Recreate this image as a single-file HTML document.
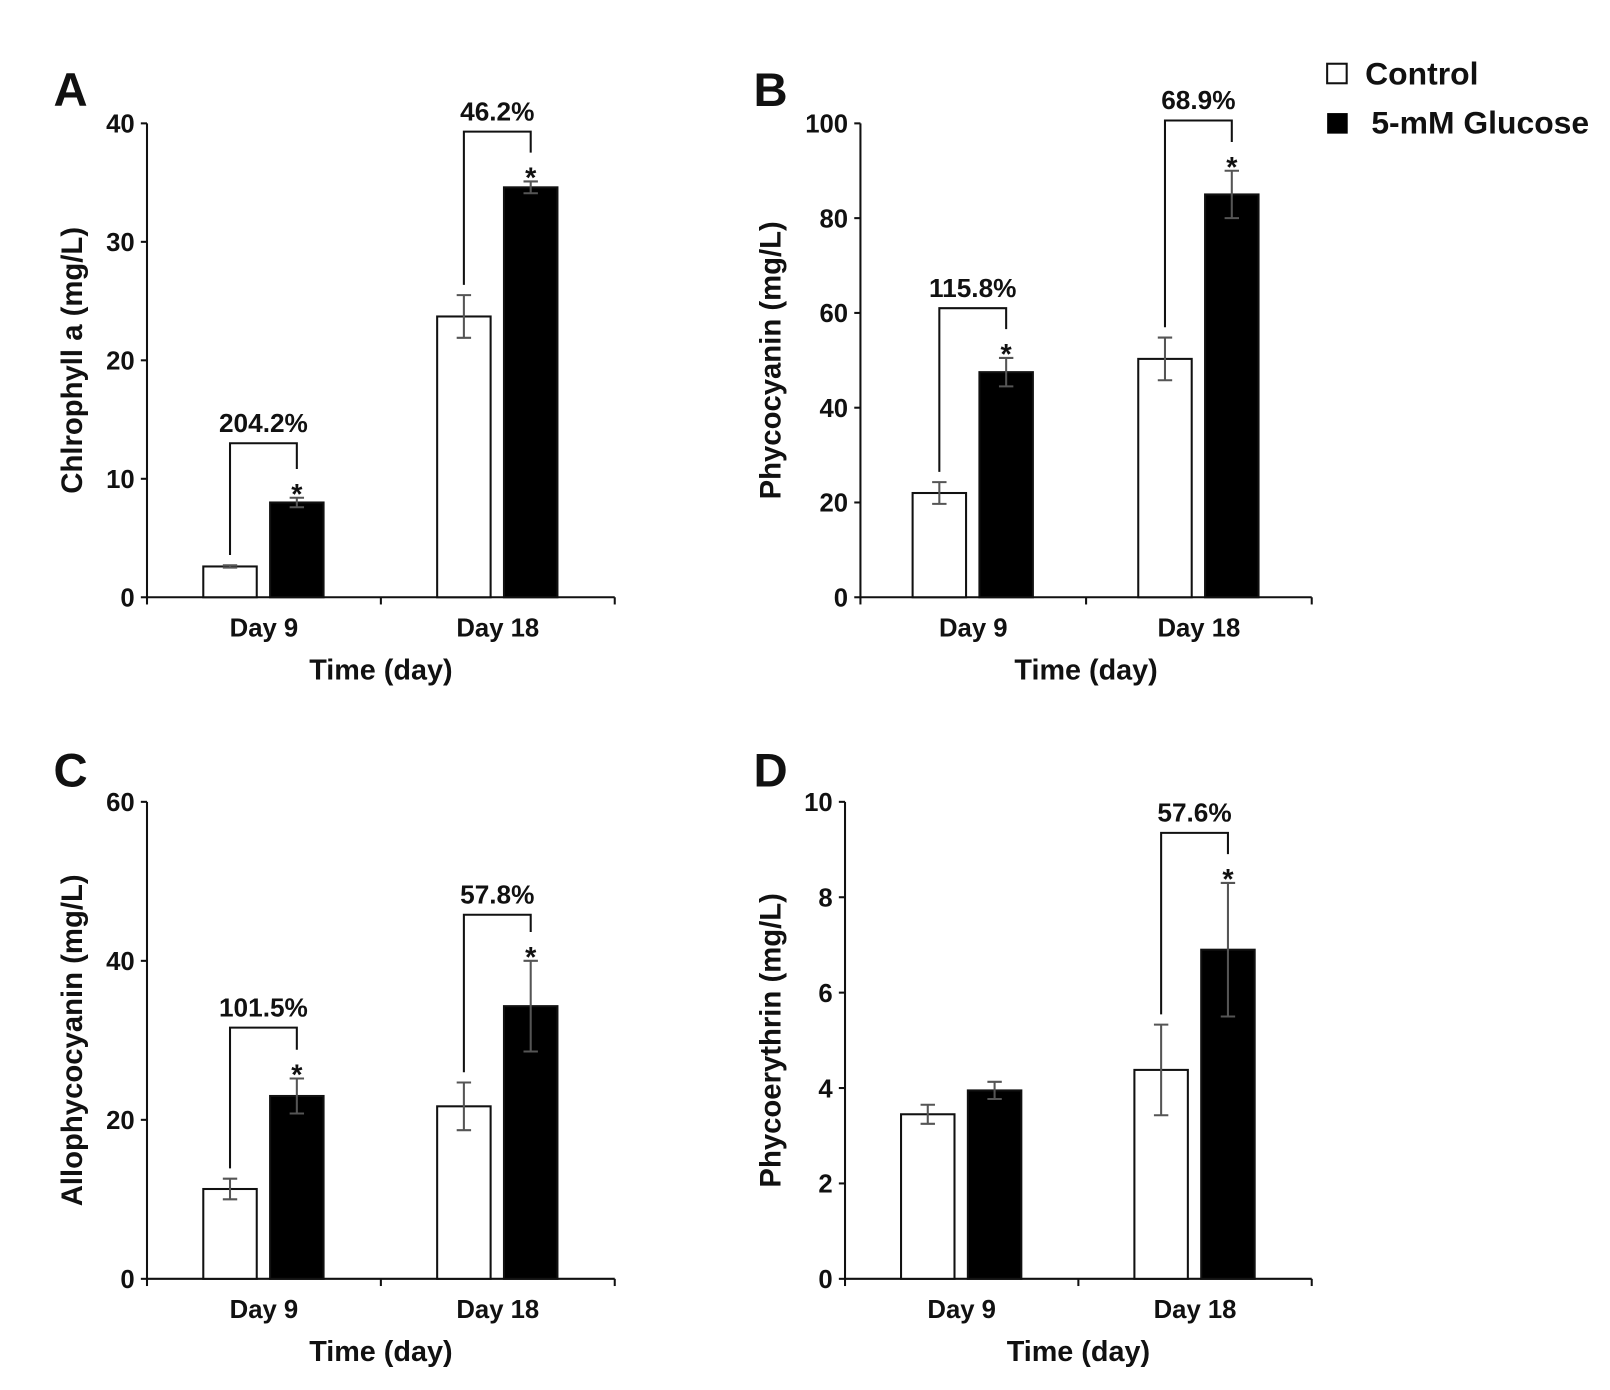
<!DOCTYPE html>
<html><head><meta charset="utf-8"><style>
body{margin:0;background:#fff}
svg text{font-family:"Liberation Sans",Arial,sans-serif;font-weight:bold;fill:#111}
</style></head><body>
<svg id="fig" width="1610" height="1385" viewBox="0 0 1610 1385" xmlns="http://www.w3.org/2000/svg">
<g id="root" transform="scale(1.028)">
<g transform="translate(34,0)">
<rect x="1257" y="62" width="19" height="19" fill="#fff" stroke="#111" stroke-width="2"/>
<text x="1294" y="82" font-size="31">Control</text>
<rect x="1257" y="110" width="20" height="20" fill="#000"/>
<text x="1300" y="130" font-size="31">5-mM Glucose</text>
</g>
</g>
</svg>
<script>
const categories = ["Day 9", "Day 18"];
const chlControl = [2.6, 23.7], chlControlErr = [0.1, 1.8];
const chlGlucose = [8.0, 34.6], chlGlucoseErr = [0.4, 0.5];
const chlTicks = [0, 10, 20, 30, 40];
const chlPct = ["204.2%", "46.2%"], chlBracket = [13.0, 39.3];
const pcControl = [22, 50.3], pcControlErr = [2.3, 4.5];
const pcGlucose = [47.5, 85], pcGlucoseErr = [3, 5];
const pcTicks = [0, 20, 40, 60, 80, 100];
const pcPct = ["115.8%", "68.9%"], pcBracket = [61, 100.6];
const apcControl = [11.3, 21.7], apcControlErr = [1.3, 3];
const apcGlucose = [23, 34.3], apcGlucoseErr = [2.2, 5.7];
const apcTicks = [0, 20, 40, 60];
const apcPct = ["101.5%", "57.8%"], apcBracket = [31.6, 45.8];
const peControl = [3.45, 4.38], peControlErr = [0.2, 0.95];
const peGlucose = [3.95, 6.9], peGlucoseErr = [0.18, 1.4];
const peTicks = [0, 2, 4, 6, 8, 10];
const pePct = [null, "57.6%"], peBracket = [null, 9.35];

const svg = document.getElementById('root');
const NS = 'http://www.w3.org/2000/svg';
function mk(tag, attrs, parent, text){
  const e = document.createElementNS(NS, tag);
  for (const k in attrs) e.setAttribute(k, attrs[k]);
  if (text !== undefined) e.textContent = text;
  parent.appendChild(e); return e;
}
function panel(cfg){
  const g = mk('g', {}, svg);
  
  
  const {x0, x1, y0, y1, ticks} = cfg;
  const maxV = ticks[ticks.length - 1];
  const Y = v => y0 - (v / maxV) * (y0 - y1);
  const slot = (x1 - x0) / categories.length;
  const X = i => x0 + slot * (i + 0.5);
  const L = mk('text', {x: cfg.lx, y: cfg.ly, 'font-size': 46}, g, cfg.letter);
   
  const ax = mk('path', {d: `M${x0} ${y1}V${y0}H${x1}`, stroke: '#111', 'stroke-width': 2, fill: 'none'}, g);
   
  ticks.forEach(t => {
    const tl = mk('line', {x1: x0 - 6, x2: x0, y1: Y(t), y2: Y(t), stroke: '#111', 'stroke-width': 2}, g);
     
    const tt = mk('text', {x: x0 - 12, y: Y(t) + 9, 'font-size': 25, 'text-anchor': 'end'}, g, t);
     
  });
  for (let i = 0; i <= categories.length; i++) {
    const xt = mk('line', {x1: x0 + slot * i, x2: x0 + slot * i, y1: y0, y2: y0 + 7, stroke: '#111', 'stroke-width': 2}, g);
     
  }
  categories.forEach((c, i) => {
    const t = mk('text', {x: X(i), y: y0 + 38, 'font-size': 25, 'text-anchor': 'middle'}, g, c);
     
  });
  const xt = mk('text', {x: (x0 + x1) / 2, y: y0 + 80, 'font-size': 28, 'text-anchor': 'middle'}, g, 'Time (day)');
   
  const yt = mk('text', {x: 0, y: 0, 'font-size': 28.5, 'text-anchor': 'middle', transform: `translate(${cfg.ytx},${(y0 + y1) / 2}) rotate(-90)`}, g, cfg.ytitle);
   
  const bw = 52;
  categories.forEach((c, i) => {
    const series = [[cfg.ctrl, cfg.ctrlErr, '#fff', -33, 'control'], [cfg.glu, cfg.gluErr, '#000', 32, 'glucose']];
    series.forEach(([vals, errs, fill, off, nm]) => {
      const cx = X(i) + off, v = vals[i];
      const b = mk('rect', {x: cx - bw / 2, y: Y(v), width: bw, height: y0 - Y(v), fill: fill, stroke: '#111', 'stroke-width': 2}, g);
      
      
      const e = errs[i], yt2 = Y(v + e), yb = Y(v - e);
      const eb = mk('path', {d: `M${cx} ${yt2}V${yb}M${cx - 7} ${yt2}H${cx + 7}M${cx - 7} ${yb}H${cx + 7}`, stroke: '#555', 'stroke-width': 2, fill: 'none'}, g);
       
    });
    if (cfg.pct[i]) {
      const lx = X(i) - 33, rx = X(i) + 32, by = Y(cfg.br[i]);
      const ctop = Y(cfg.ctrl[i] + cfg.ctrlErr[i]) - 10;
      const starY = Y(cfg.glu[i] + cfg.gluErr[i]) - 6;
      const br = mk('path', {d: `M${lx} ${ctop}V${by}H${rx}V${starY - 22}`, stroke: '#111', 'stroke-width': 2, fill: 'none'}, g);
       
      const s = mk('text', {x: rx, y: starY + 12, 'font-size': 28, 'text-anchor': 'middle'}, g, '*');
       
      const p = mk('text', {x: (lx + rx) / 2, y: by - 11, 'font-size': 25.5, 'text-anchor': 'middle'}, g, cfg.pct[i]);
       
    }
  });
}
panel({letter: 'A', lx: 52, ly: 103, x0: 143, x1: 598, y0: 581, y1: 120, ticks: chlTicks, ytx: 80, ytitle: 'Chlrophyll a (mg/L)', ctrl: chlControl, ctrlErr: chlControlErr, glu: chlGlucose, gluErr: chlGlucoseErr, pct: chlPct, br: chlBracket});
panel({letter: 'B', lx: 733, ly: 103, x0: 837, x1: 1276, y0: 581, y1: 120, ticks: pcTicks, ytx: 759, ytitle: 'Phycocyanin (mg/L)', ctrl: pcControl, ctrlErr: pcControlErr, glu: pcGlucose, gluErr: pcGlucoseErr, pct: pcPct, br: pcBracket});
panel({letter: 'C', lx: 52, ly: 765, x0: 143, x1: 598, y0: 1244, y1: 780, ticks: apcTicks, ytx: 80, ytitle: 'Allophycocyanin (mg/L)', ctrl: apcControl, ctrlErr: apcControlErr, glu: apcGlucose, gluErr: apcGlucoseErr, pct: apcPct, br: apcBracket});
panel({letter: 'D', lx: 733, ly: 765, x0: 822, x1: 1276, y0: 1244, y1: 780, ticks: peTicks, ytx: 759, ytitle: 'Phycoerythrin (mg/L)', ctrl: peControl, ctrlErr: peControlErr, glu: peGlucose, gluErr: peGlucoseErr, pct: pePct, br: peBracket});
</script>
</body></html>
